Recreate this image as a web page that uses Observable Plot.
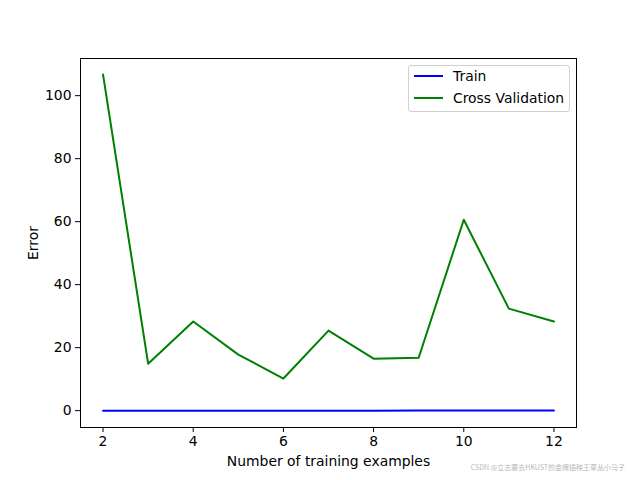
<!DOCTYPE html>
<html>
<head>
<meta charset="utf-8">
<script src="https://cdn.jsdelivr.net/npm/d3@7"></script>
<script src="https://cdn.jsdelivr.net/npm/@observablehq/plot@0.6"></script>
<style>
  body { margin: 0; background: #fff; }
  #wrap { position: relative; width: 640px; height: 480px; font-family: "DejaVu Sans", sans-serif; }
  .legend { position: absolute; left: 408px; top: 65px; width: 160px; height: 45px; border: 1px solid #d0d0d0; border-radius: 3px; background: rgba(255,255,255,0.8); font-size: 13.9px; }
  .legend .row { position: absolute; left: 0; height: 16px; display: flex; align-items: center; }
  .legend .sw { width: 29px; height: 2px; margin-left: 5px; margin-right: 10px; }
  .wm { position: absolute; right: 15px; top: 462px; font-size: 7px; color: #b8b8b8; font-family: "Noto Sans CJK SC", sans-serif; }
</style>
</head>
<body>
<div id="wrap"></div>
<script>
const trainSizes = [2, 3, 4, 5, 6, 7, 8, 9, 10, 11, 12];
const trainError = [0.0, 0.0, 0.0, 0.0, 0.0, 0.0, 0.0, 0.01, 0.02, 0.05, 0.08];
const cvError = [106.7, 14.9, 28.3, 17.8, 10.2, 25.4, 16.5, 16.8, 60.6, 32.4, 28.3];
const xTicks = [2, 4, 6, 8, 10, 12];
const yTicks = [0, 20, 40, 60, 80, 100];
const seriesNames = ["Train", "Cross Validation"];
const seriesColors = ["#0000ff", "#008000"];

const rows = [];
trainSizes.forEach((n, i) => {
  rows.push({n, err: trainError[i], s: seriesNames[0]});
  rows.push({n, err: cvError[i], s: seriesNames[1]});
});

const chart = Plot.plot({
  width: 640,
  height: 480,
  marginLeft: 80,
  marginRight: 64,
  marginTop: 58,
  marginBottom: 53,
  style: { fontFamily: "DejaVu Sans, sans-serif", fontSize: "13.9px", color: "black", background: "white" },
  x: { domain: [1.5, 12.5] },
  y: { domain: [-5.35, 111.8] },
  color: { domain: seriesNames, range: seriesColors },
  marks: [
    Plot.axisX({ticks: xTicks, tickSize: 5, tickPadding: 4, label: "Number of training examples", labelAnchor: "center", labelArrow: "none", labelOffset: 38, fontSize: 13.9}),
    Plot.axisY({ticks: yTicks, tickSize: 5, tickPadding: 4, label: "Error", labelAnchor: "center", labelArrow: "none", labelOffset: 52, fontSize: 13.9}),
    Plot.line(rows, {x: "n", y: "err", stroke: "s", strokeWidth: 2, z: "s"}),
    Plot.frame({stroke: "black", strokeWidth: 1})
  ]
});

const wrap = document.getElementById("wrap");
wrap.appendChild(chart);

const legend = document.createElement("div");
legend.className = "legend";
seriesNames.forEach((name, i) => {
  const row = document.createElement("div");
  row.className = "row";
  row.style.top = (2 + i * 22) + "px";
  const sw = document.createElement("div");
  sw.className = "sw";
  sw.style.background = seriesColors[i];
  const t = document.createElement("span");
  t.textContent = name;
  row.appendChild(sw);
  row.appendChild(t);
  legend.appendChild(row);
});
wrap.appendChild(legend);

const wm = document.createElement("div");
wm.className = "wm";
wm.textContent = "CSDN @立志要去HKUST的金牌插秧王草丛小马子";
wrap.appendChild(wm);
</script>
</body>
</html>
